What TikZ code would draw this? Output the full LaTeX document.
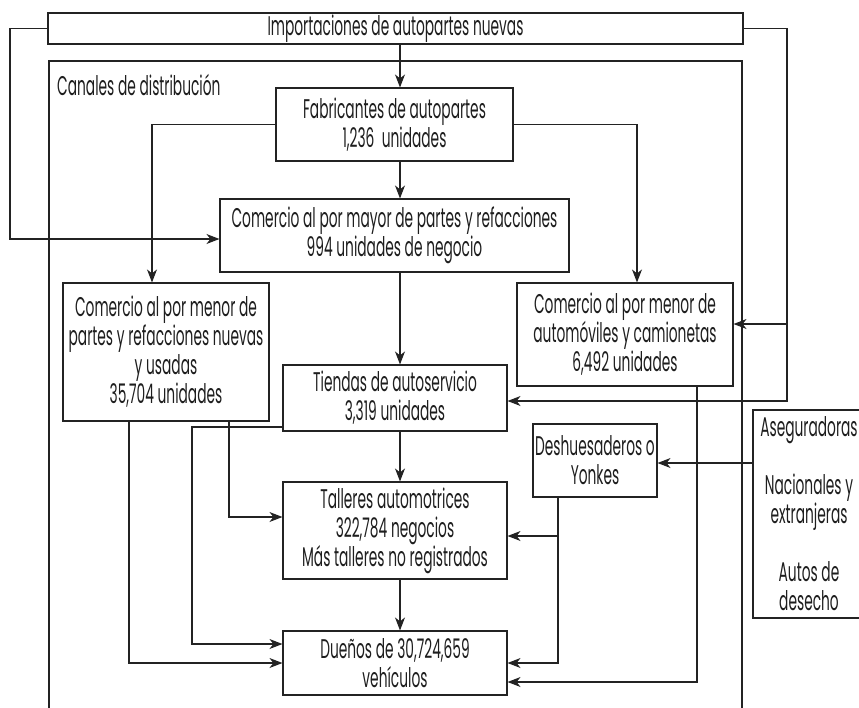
\documentclass[tikz,border=0pt]{standalone}
\usepackage{fontspec}
\setmainfont{Poppins}[FakeStretch=0.51]
\usetikzlibrary{arrows.meta}
\definecolor{ln}{RGB}{35,35,35}
\definecolor{txt}{RGB}{30,30,30}
\begin{document}
\begin{tikzpicture}[x=1pt,y=-1pt,
  box/.style={draw=ln, line width=1.1pt, align=center, inner sep=0pt, text=txt,
    font=\fontsize{27}{29}\selectfont},
  conn/.style={draw=ln, line width=1.1pt},
  arr/.style={conn, -{Stealth[length=13pt,width=10pt,inset=4pt]}}]
\useasboundingbox (0,0) rectangle (859,707);

% frames and boxes
\node[box, minimum width=695pt, minimum height=31pt] (imp) at (395.5,28.5) {Importaciones de autopartes nuevas};
\node[box, minimum width=693pt, minimum height=659pt] (canales) at (395.5,390.5) {};
\node[anchor=west, inner sep=0pt, text=txt, font=\fontsize{27}{29}\selectfont] (canaleslbl) at (57,85) {Canales de distribución};
\node[box, minimum width=237pt, minimum height=73pt] (fab) at (394.5,124.5) {Fabricantes de autopartes\\1,236\ \ unidades};
\node[box, minimum width=349pt, minimum height=73pt] (mayor) at (394.5,235.5) {Comercio al por mayor de partes y refacciones\\994 unidades de negocio};
\node[box, minimum width=206pt, minimum height=138pt] (partes) at (166,352) {Comercio al por menor de\\partes y refacciones nuevas\\y usadas\\35,704 unidades};
\node[box, minimum width=216pt, minimum height=103pt] (autos) at (625,334.5) {Comercio al por menor de\\automóviles y camionetas\\6,492 unidades};
\node[box, minimum width=224pt, minimum height=66pt] (tiendas) at (395,398) {Tiendas de autoservicio\\3,319 unidades};
\node[box, minimum width=124pt, minimum height=73pt] (desh) at (595,460.5) {Deshuesaderos o\\Yonkes};
\node[box, minimum width=224pt, minimum height=97pt] (talleres) at (395,530.5) {Talleres automotrices\\322,784 negocios\\Más talleres no registrados};
\node[box, minimum width=224pt, minimum height=64pt] (duenos) at (395,663) {Dueños de 30,724,659\\vehículos};
\node[box, minimum width=112pt, minimum height=208pt] (aseg) at (809,514) {Aseguradoras\\[29pt]Nacionales y\\extranjeras\\[29pt]Autos de\\desecho};

% helper coordinates
\coordinate (cx) at (400,0);
\coordinate (l1) at (10,28.5);
\coordinate (r1) at (787,28.5);
\coordinate (r2) at (787,401);
\coordinate (r3) at (787,324);
\coordinate (dx) at (152,0);
\coordinate (ex) at (637,0);
\coordinate (jy) at (0,427);
\coordinate (jx) at (192,0);
\coordinate (jy2) at (0,644);
\coordinate (kx) at (229,0);
\coordinate (ky) at (0,517);
\coordinate (lx) at (129,0);
\coordinate (ly) at (0,663);
\coordinate (my) at (0,463);
\coordinate (nx) at (558,0);
\coordinate (ny) at (0,536);
\coordinate (ox) at (697,0);
\coordinate (oy) at (0,682);
\coordinate (my2) at (0,239);

% connectors
\draw[arr] (imp.west) -- (l1) |- (mayor.west |- my2);
\draw[arr] (imp.east) -- (r1) -- (r2) -- (r2 -| tiendas.east);
\draw[arr] (r3) -- (r3 -| autos.east);
\draw[arr] (imp.south -| cx) -- (fab.north -| cx);
\draw[arr] (fab.west) -| (partes.north -| dx);
\draw[arr] (fab.east) -| (autos.north -| ex);
\draw[arr] (fab.south -| cx) -- (mayor.north -| cx);
\draw[arr] (mayor.south -| cx) -- (tiendas.north -| cx);
\draw[arr] (tiendas.south -| cx) -- (talleres.north -| cx);
\draw[arr] (talleres.south -| cx) -- (duenos.north -| cx);
\draw[arr] (tiendas.west |- jy) -- (jx |- jy) |- (duenos.west |- jy2);
\draw[arr] (partes.south -| kx) |- (talleres.west |- ky);
\draw[arr] (partes.south -| lx) |- (duenos.west |- ly);
\draw[arr] (aseg.west |- my) -- (desh.east |- my);
\draw[arr] (desh.south -| nx) |- (duenos.east |- ly);
\draw[arr] (nx |- ny) -- (talleres.east |- ny);
\draw[arr] (autos.south -| ox) |- (duenos.east |- oy);
\end{tikzpicture}
\end{document}
